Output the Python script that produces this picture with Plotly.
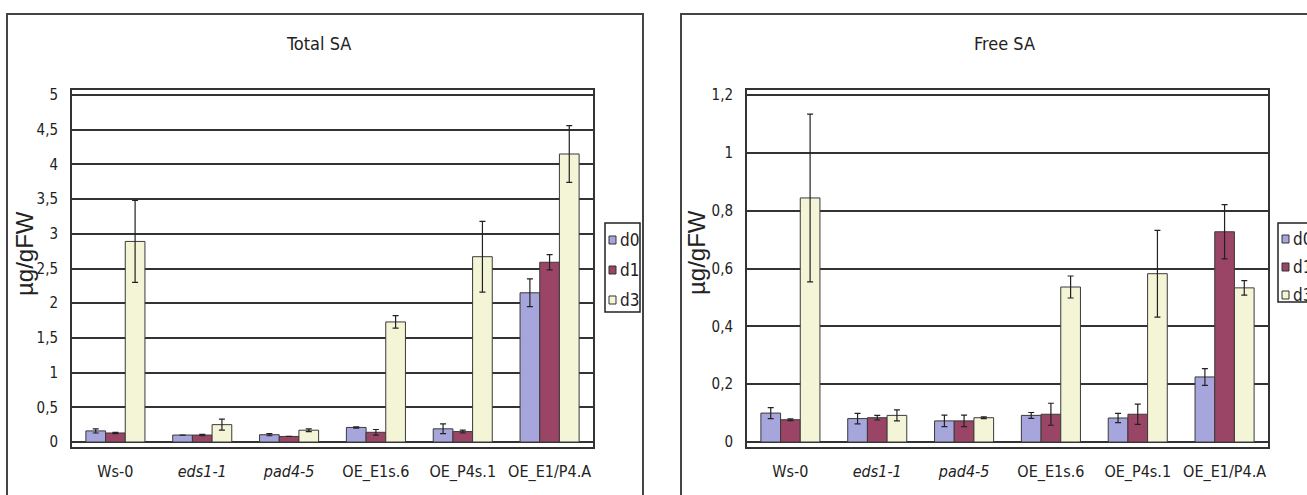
import plotly.graph_objects as go

# Genotypes on the x axis; mutant alleles are written in italics
genotypes = ["Ws-0", "eds1-1", "pad4-5", "OE_E1s.6", "OE_P4s.1", "OE_E1/P4.A"]
italic_genotypes = {"eds1-1", "pad4-5"}
tick_labels = [f"<i>{g}</i>" if g in italic_genotypes else g for g in genotypes]

days = ["d0", "d1", "d3"]
day_colors = ["#a6a6dc", "#9b4566", "#f4f4d6"]

# Total SA (µg/g FW): means and standard errors per day
total_mean = {
    "d0": [0.16, 0.10, 0.105, 0.21, 0.19, 2.15],
    "d1": [0.13, 0.10, 0.08, 0.14, 0.15, 2.59],
    "d3": [2.89, 0.25, 0.17, 1.73, 2.67, 4.15],
}
total_err = {
    "d0": [0.03, 0.0, 0.015, 0.01, 0.07, 0.20],
    "d1": [0.01, 0.01, 0.0, 0.04, 0.02, 0.11],
    "d3": [0.59, 0.08, 0.02, 0.09, 0.51, 0.41],
}

# Free SA (µg/g FW)
free_mean = {
    "d0": [0.100, 0.081, 0.073, 0.092, 0.083, 0.225],
    "d1": [0.077, 0.084, 0.073, 0.096, 0.096, 0.727],
    "d3": [0.844, 0.092, 0.084, 0.536, 0.582, 0.533],
}
free_err = {
    "d0": [0.019, 0.018, 0.020, 0.010, 0.016, 0.029],
    "d1": [0.003, 0.008, 0.020, 0.038, 0.035, 0.094],
    "d3": [0.290, 0.019, 0.003, 0.038, 0.150, 0.025],
}

W, H = 1307, 495
FONT = "Liberation Sans Narrow, Arial Narrow, DejaVu Sans Condensed, sans-serif"
INK = "#222222"
GRID = "#333333"


def px_x(v):
    return v / W


def px_y(v):
    return 1 - v / H


fig = go.Figure()

panels = [
    ("x", "y", total_mean, total_err),
    ("x2", "y2", free_mean, free_err),
]
for xa, ya, means, errs in panels:
    for day, color in zip(days, day_colors):
        fig.add_trace(go.Bar(
            x=genotypes, y=means[day], name=day, xaxis=xa, yaxis=ya,
            marker=dict(color=color, line=dict(color="#3a3a3a", width=1)),
            error_y=dict(type="data", array=errs[day], visible=True,
                         color=INK, thickness=1.2, width=3),
            showlegend=False,
        ))

# plot areas (pixel layout of the two panels)
left_dom = [px_x(72), px_x(593)]
right_dom = [px_x(747), px_x(1268)]
y_dom = [px_y(447), px_y(90)]

frame = dict(showline=True, linecolor=GRID, linewidth=2, mirror=True)
x_font = dict(family=FONT, size=16, color=INK)
y_font = dict(family=FONT, size=15, color=INK)

fig.update_layout(
    width=W, height=H,
    margin=dict(l=0, r=0, t=0, b=0, autoexpand=False),
    paper_bgcolor="white", plot_bgcolor="white",
    separators=",.",
    barmode="group", bargap=0.32, bargroupgap=0.0,
    showlegend=False,
    xaxis=dict(domain=left_dom, anchor="y", tickvals=genotypes, ticktext=tick_labels, tickangle=0,
               showgrid=False, ticks="", ticklabelstandoff=9, tickfont=x_font, **frame),
    yaxis=dict(domain=y_dom, anchor="x", range=[-0.072, 5.072], tickvals=[0, 0.5, 1, 1.5, 2, 2.5, 3, 3.5, 4, 4.5, 5],
               showgrid=True, gridcolor=GRID, gridwidth=1.6, zeroline=False,
               ticks="", ticklabelstandoff=9, tickfont=y_font, **frame),
    xaxis2=dict(domain=right_dom, anchor="y2", tickvals=genotypes, ticktext=tick_labels, tickangle=0,
                showgrid=False, ticks="", ticklabelstandoff=9, tickfont=x_font, **frame),
    yaxis2=dict(domain=y_dom, anchor="x2", range=[-0.0173, 1.2173], tickvals=[0, 0.2, 0.4, 0.6, 0.8, 1, 1.2],
                showgrid=True, gridcolor=GRID, gridwidth=1.6, zeroline=False,
                ticks="", ticklabelstandoff=9, tickfont=y_font, **frame),
)

shapes = []
annotations = []

# outer chart frames (bottom edge runs past the image)
for x0, x1 in [(7, 643), (681, 1330)]:
    shapes.append(dict(type="rect", xref="paper", yref="paper",
                       x0=px_x(x0), x1=px_x(x1), y0=-0.2, y1=px_y(14),
                       line=dict(color="#444444", width=2), fillcolor="rgba(0,0,0,0)", layer="below"))

# chart titles
for text, cx in [("Total SA", 318), ("Free SA", 1004)]:
    annotations.append(dict(text=text, xref="paper", yref="paper", x=px_x(cx), y=px_y(43),
                            xanchor="center", yanchor="middle", showarrow=False,
                            font=dict(family=FONT, size=18, color=INK)))

# y-axis titles
for cx in [25, 697]:
    annotations.append(dict(text="µg/gFW", xref="paper", yref="paper", x=px_x(cx), y=px_y(253),
                            xanchor="center", yanchor="middle", textangle=-90, showarrow=False,
                            font=dict(family="Liberation Sans, Arial, sans-serif", size=24, color=INK)))

# legends: box, colour squares and day names
legend_boxes = [
    dict(x0=605, x1=640, y0=223, y1=312, rows=[240, 270, 300]),
    dict(x0=1278, x1=1330, y0=223, y1=302, rows=[239, 267, 295]),
]
for box in legend_boxes:
    shapes.append(dict(type="rect", xref="paper", yref="paper",
                       x0=px_x(box["x0"]), x1=px_x(box["x1"]), y0=px_y(box["y1"]), y1=px_y(box["y0"]),
                       line=dict(color="#222222", width=1.5), fillcolor="white"))
    for day, color, cy in zip(days, day_colors, box["rows"]):
        sx = box["x0"] + 4
        shapes.append(dict(type="rect", xref="paper", yref="paper",
                           x0=px_x(sx), x1=px_x(sx + 7), y0=px_y(cy + 4), y1=px_y(cy - 4),
                           line=dict(color="#333333", width=1), fillcolor=color))
        annotations.append(dict(text=day, xref="paper", yref="paper", x=px_x(sx + 9), y=px_y(cy),
                                xanchor="left", yanchor="middle", showarrow=False,
                                font=dict(family=FONT, size=17, color=INK)))

fig.update_layout(shapes=shapes, annotations=annotations)

fig.write_html("out.html")
